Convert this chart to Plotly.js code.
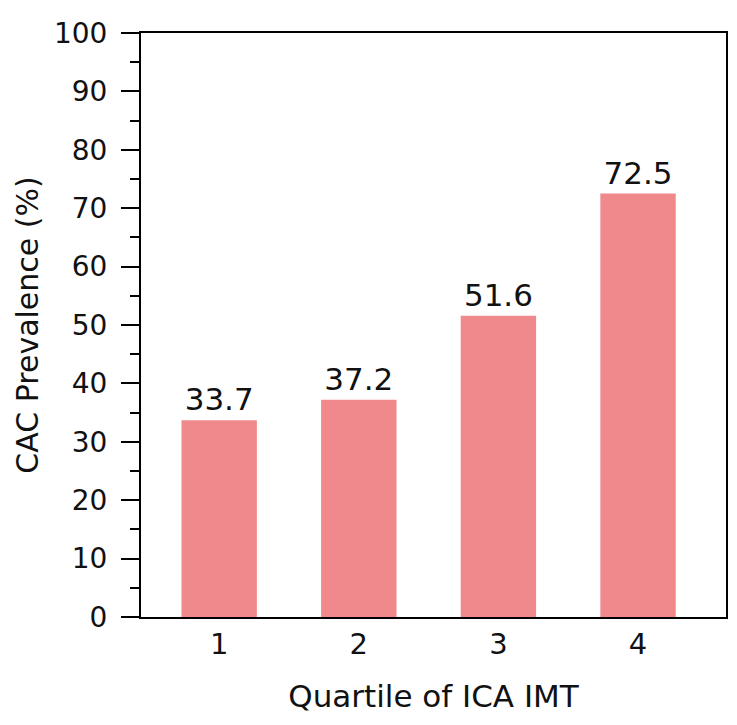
<!DOCTYPE html>
<html>
<head>
<meta charset="utf-8">
<script src="https://cdn.plot.ly/plotly-3.0.1.min.js"></script>
<style>
  html, body { margin: 0; padding: 0; background: #fff; }
  #plot { width: 737px; height: 725px; }
</style>
</head>
<body>
<div id="plot"></div>
<script>
const quartiles = [1, 2, 3, 4];
const prevalence = [33.7, 37.2, 51.6, 72.5];
const barLabels = ["33.7", "37.2", "51.6", "72.5"];

const font = "DejaVu Sans, Arial, sans-serif";

const trace = {
  type: "bar",
  x: quartiles,
  y: prevalence,
  width: 0.54,
  marker: { color: "#ef898c" },
  text: barLabels,
  textposition: "outside",
  textfont: { family: font, size: 31, color: "#111" },
  cliponaxis: false,
  hoverinfo: "x+y"
};

const layout = {
  width: 737,
  height: 725,
  margin: { l: 141, r: 11, t: 33, b: 108 },
  paper_bgcolor: "#fff",
  plot_bgcolor: "#fff",
  showlegend: false,
  font: { family: font, color: "#111" },
  xaxis: {
    range: [0.44, 4.63],
    tickvals: quartiles,
    ticktext: quartiles.map(String),
    ticks: "",
    showgrid: false,
    zeroline: false,
    showline: true,
    linecolor: "#000",
    linewidth: 2,
    mirror: true,
    tickfont: { size: 29 },
    title: { text: "Quartile of ICA IMT", font: { size: 31 }, standoff: 26 }
  },
  yaxis: {
    range: [0, 100],
    dtick: 10,
    ticks: "outside",
    ticklen: 18,
    tickwidth: 2,
    tickcolor: "#000",
    ticklabelstandoff: 8,
    minor: { dtick: 5, ticks: "outside", ticklen: 9, tickwidth: 2, tickcolor: "#000" },
    showgrid: false,
    zeroline: false,
    showline: true,
    linecolor: "#000",
    linewidth: 2,
    mirror: true,
    tickfont: { size: 28 },
    title: { text: "CAC Prevalence (%)", font: { size: 30 }, standoff: 6 }
  }
};

Plotly.newPlot("plot", [trace], layout, { displayModeBar: false, staticPlot: true });
</script>
</body>
</html>
